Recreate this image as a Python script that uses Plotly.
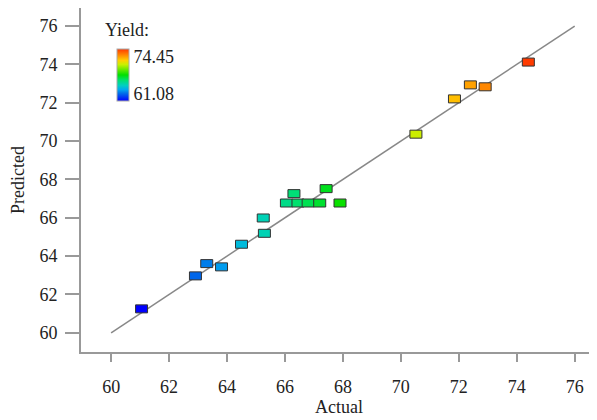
import plotly.graph_objects as go
from plotly.colors import sample_colorscale

# Data (Actual vs Predicted yield)
actual = [61.05, 62.91, 63.30, 63.81, 64.50, 65.25, 65.29, 66.31,
          66.05, 66.45, 66.80, 67.20, 67.90, 67.42,
          70.52, 71.85, 72.40, 72.91, 74.40]
predicted = [61.25, 62.97, 63.61, 63.44, 64.62, 65.99, 65.19, 67.26,
             66.77, 66.77, 66.77, 66.77, 66.77, 67.52,
             70.36, 72.20, 72.93, 72.83, 74.12]
diag = [60, 76]
ymin, ymax = 61.08, 74.45
cb_ticktext = ["61.08", "74.45"]

colorscale = [[0.0, "#0000ff"], [0.15, "#0070e8"], [0.22, "#00a8f0"],
              [0.3, "#00d0c0"], [0.4, "#00e070"], [0.5, "#00e000"],
              [0.7, "#c8f000"], [0.78, "#ffd000"], [0.86, "#ff9800"],
              [1.0, "#ff3800"]]

FONT = "Liberation Serif"
GRID = "#999999"
FS = 18

fig = go.Figure()
fig.add_trace(go.Scatter(x=diag, y=diag, mode="lines",
                         line=dict(color="#888888", width=1.5),
                         hoverinfo="skip", showlegend=False))

span = ymax - ymin
fig.add_trace(go.Scatter(
    x=actual, y=predicted, mode="markers", showlegend=False,
    marker=dict(color=actual, cmin=ymin, cmax=ymax, colorscale=colorscale,
                opacity=0, size=10,
                showscale=True,
                colorbar=dict(
                    x=(117 - 81) / 516, xanchor="left", xpad=0,
                    y=(352 - 75) / 344, yanchor="middle", ypad=0,
                    len=52, lenmode="pixels", thickness=12,
                    thicknessmode="pixels",
                    outlinecolor="#aaaaaa", outlinewidth=1,
                    tickvals=[ymin + 0.15 * span, ymax - 0.15 * span],
                    ticktext=cb_ticktext, ticks="",
                    tickfont=dict(family=FONT, size=FS, color="#222222"),
                    bgcolor="rgba(0,0,0,0)"))))

norm = [(a - ymin) / span for a in actual]
colors = sample_colorscale(colorscale, [min(max(t, 0), 1) for t in norm])
shapes = []
for a, p, c in zip(actual, predicted, colors):
    shapes.append(dict(type="rect", xref="x", yref="y",
                       xsizemode="pixel", ysizemode="pixel",
                       xanchor=a, yanchor=p, x0=-6, x1=6, y0=-4, y1=4,
                       fillcolor=c, line=dict(color="#333333", width=1),
                       layer="above"))

# page body has an 8px margin: figure is sized/placed to compensate
fig.update_layout(
    width=589, height=412,
    margin=dict(l=73, r=0, t=0, b=68),
    plot_bgcolor="white", paper_bgcolor="white",
    font=dict(family=FONT, size=FS, color="#222222"),
    shapes=shapes,
    annotations=[dict(text="Yield:", xref="paper", yref="paper",
                      x=(103 - 81) / 516, y=(352 - 30) / 344,
                      xanchor="left", yanchor="middle", showarrow=False,
                      font=dict(family=FONT, size=FS, color="#222222"))],
    xaxis=dict(range=[58.96, 76.77], tickvals=[60, 62, 64, 66, 68, 70, 72, 74, 76],
               showgrid=False, zeroline=False, showline=True, linecolor=GRID,
               linewidth=2, mirror=True, ticks="outside", ticklen=8,
               tickcolor=GRID, tickwidth=2, ticklabelstandoff=9,
               automargin=False,
               title=dict(text="Actual", standoff=2,
                          font=dict(family=FONT, size=FS))),
    yaxis=dict(range=[59.0, 76.94], tickvals=[60, 62, 64, 66, 68, 70, 72, 74, 76],
               showgrid=False, zeroline=False, showline=True, linecolor=GRID,
               linewidth=2, mirror=False, ticks="outside", ticklen=14,
               tickcolor=GRID, tickwidth=2, ticklabelstandoff=4,
               automargin=False,
               title=dict(text="Predicted", standoff=10,
                          font=dict(family=FONT, size=FS))),
)

fig.write_html("out.html")
